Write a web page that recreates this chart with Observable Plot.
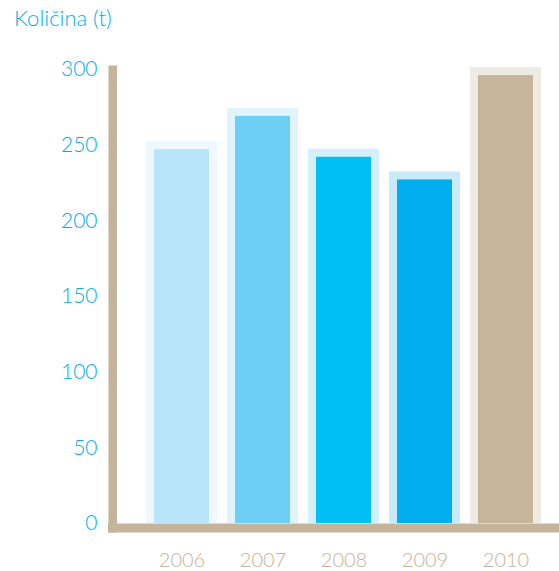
<!DOCTYPE html>
<html><head><meta charset="utf-8">
<script src="https://cdn.jsdelivr.net/npm/d3@7"></script>
<script src="https://cdn.jsdelivr.net/npm/@observablehq/plot@0.6"></script>
<style>
body{margin:0;background:#fff;font-family:Lato,"Open Sans",sans-serif;}
#title{height:40px;line-height:36px;padding-left:14px;color:#00aeef;font-size:22px;font-weight:300;}
#chart svg{display:block;}
</style></head>
<body>
<div id="title">Količina (t)</div>
<div id="chart"></div>
<script>
const years = ["2006", "2007", "2008", "2009", "2010"];
const values = [247, 269, 242, 227, 296];
const barColors = ["#b9e5fa", "#6dcff6", "#00bff3", "#00aeef", "#c4b59b"];
const haloColors = ["#eef8fe", "#e1f4fd", "#d3f0fc", "#c8eaf9", "#eeebe4"];
const yTicks = [0, 50, 100, 150, 200, 250, 300];

const data = years.map((year, i) => ({year, value: values[i], bar: barColors[i], halo: haloColors[i]}));
const axisColor = "#c3b49a";

const chart = Plot.plot({
  width: 559,
  height: 531,
  marginLeft: 108,
  marginRight: 0,
  marginTop: 25,
  marginBottom: 39,
  style: {fontFamily: "Lato, 'Open Sans', sans-serif", fontSize: "21px", fontWeight: 300, background: "#fff"},
  x: {domain: years, range: [141, 546], padding: 0},
  y: {domain: [0, 300], range: [483, 29]},
  marks: [
    Plot.rectY(data, {x: "year", y1: 0, y2: "value", fill: "halo", insetLeft: 5, insetRight: 5, insetTop: -8}),
    Plot.rectY(data, {x: "year", y1: 0, y2: "value", fill: "bar", insetLeft: 13, insetRight: 13}),
    Plot.ruleY([0], {stroke: axisColor, strokeWidth: 9, dy: 4.5, strokeLinecap: "butt"}),
    Plot.frame({anchor: "left", stroke: axisColor, strokeWidth: 8.5, dx: 4.2, strokeLinecap: "butt"}),
    Plot.axisY({ticks: yTicks, tickSize: 0, tickPadding: 11, fill: "#00aeef", label: null, tickFormat: d => String(d)}),
    Plot.axisX({tickSize: 0, tickPadding: 20, fill: axisColor, label: null, fontSize: 20})
  ]
});
document.getElementById("chart").appendChild(chart);
</script>
</body></html>
